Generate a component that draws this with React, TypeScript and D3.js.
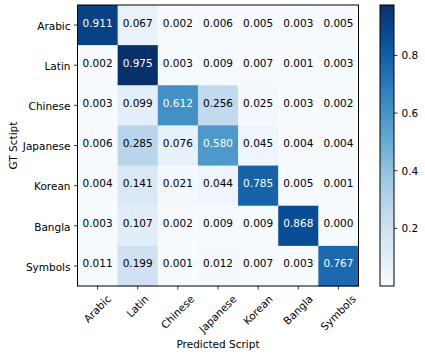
import * as d3 from "d3";
import { useEffect, useRef } from "react";

const scripts = ["Arabic", "Latin", "Chinese", "Japanese", "Korean", "Bangla", "Symbols"];

const arabicRow = [0.911, 0.067, 0.002, 0.006, 0.005, 0.003, 0.005];
const latinRow = [0.002, 0.975, 0.003, 0.009, 0.007, 0.001, 0.003];
const chineseRow = [0.003, 0.099, 0.612, 0.256, 0.025, 0.003, 0.002];
const japaneseRow = [0.006, 0.285, 0.076, 0.58, 0.045, 0.004, 0.004];
const koreanRow = [0.004, 0.141, 0.021, 0.044, 0.785, 0.005, 0.001];
const banglaRow = [0.003, 0.107, 0.002, 0.009, 0.009, 0.868, 0.0];
const symbolsRow = [0.011, 0.199, 0.001, 0.012, 0.007, 0.003, 0.767];

const matrix = [arabicRow, latinRow, chineseRow, japaneseRow, koreanRow, banglaRow, symbolsRow];

const colorbarTicks = [0.2, 0.4, 0.6, 0.8];

const blues = ["#f7fbff", "#deebf7", "#c6dbef", "#9ecae1", "#6baed6", "#4292c6", "#2171b5", "#08519c", "#08306b"];

export default function App() {
  const svgRef = useRef<SVGSVGElement | null>(null);

  useEffect(() => {
    if (!svgRef.current) return;
    const svg = d3.select(svgRef.current);
    svg.selectAll("*").remove();

    const font = "DejaVu Sans";
    const fs = 10.5;
    const left = 77.5;
    const top = 5;
    const size = 281;
    const right = left + size;
    const bottom = top + size;

    const all = matrix.flat();
    const vmin = d3.min(all)!;
    const vmax = d3.max(all)!;
    const thresh = vmax / 2;

    const interp = d3.piecewise(d3.interpolateRgb, blues);
    const color = (v: number) => interp((v - vmin) / (vmax - vmin));

    const x = d3.scaleBand<string>().domain(scripts).range([left, right]);
    const y = d3.scaleBand<string>().domain(scripts).range([top, bottom]);

    const g = svg.append("g").attr("font-family", font).attr("font-size", fs);

    // cells
    matrix.forEach((row, i) => {
      row.forEach((v, j) => {
        g.append("rect")
          .attr("x", x(scripts[j])!)
          .attr("y", y(scripts[i])!)
          .attr("width", x.bandwidth() + 0.5)
          .attr("height", y.bandwidth() + 0.5)
          .attr("fill", color(v));
        g.append("text")
          .attr("x", x(scripts[j])! + x.bandwidth() / 2)
          .attr("y", y(scripts[i])! + y.bandwidth() / 2 + 1.5)
          .attr("text-anchor", "middle")
          .attr("fill", v > thresh ? "#ffffff" : "#000000")
          .text(v.toFixed(3));
      });
    });

    g.append("rect")
      .attr("x", left)
      .attr("y", top)
      .attr("width", size)
      .attr("height", size)
      .attr("fill", "none")
      .attr("stroke", "#000")
      .attr("stroke-width", 1);

    // y ticks
    scripts.forEach((s) => {
      const cy = y(s)! + y.bandwidth() / 2;
      g.append("line")
        .attr("x1", left - 3.5)
        .attr("x2", left)
        .attr("y1", cy)
        .attr("y2", cy)
        .attr("stroke", "#000")
        .attr("stroke-width", 0.8);
      g.append("text")
        .attr("x", left - 7)
        .attr("y", cy + 4.8)
        .attr("text-anchor", "end")
        .attr("fill", "#000")
        .text(s);
    });

    // x ticks, rotated 45, centred on tick
    scripts.forEach((s) => {
      const cx = x(s)! + x.bandwidth() / 2;
      g.append("line")
        .attr("x1", cx)
        .attr("x2", cx)
        .attr("y1", bottom)
        .attr("y2", bottom + 3.5)
        .attr("stroke", "#000")
        .attr("stroke-width", 0.8);
      const t = g
        .append("text")
        .attr("text-anchor", "middle")
        .attr("dy", "0.32em")
        .attr("fill", "#000")
        .text(s);
      const w = (t.node() as SVGTextElement).getComputedTextLength();
      const h = fs * 1.17;
      const W = (w + h) * Math.SQRT1_2;
      t.attr("transform", `translate(${cx},${bottom + 7 + W / 2}) rotate(-45)`);
    });

    // axis labels
    g.append("text")
      .attr("x", (left + right) / 2)
      .attr("y", 348)
      .attr("text-anchor", "middle")
      .text("Predicted Script");

    g.append("text")
      .attr("transform", `translate(17,${(top + bottom) / 2}) rotate(-90)`)
      .attr("text-anchor", "middle")
      .text("GT Sctipt");

    // colorbar
    const cbX = 380;
    const cbW = 14;
    const defs = svg.append("defs");
    const grad = defs
      .append("linearGradient")
      .attr("id", "cb")
      .attr("x1", 0)
      .attr("x2", 0)
      .attr("y1", 1)
      .attr("y2", 0);
    blues.forEach((c, i) => {
      grad
        .append("stop")
        .attr("offset", i / (blues.length - 1))
        .attr("stop-color", c);
    });
    const cy = d3.scaleLinear().domain([vmin, vmax]).range([bottom, top]);
    g.append("rect")
      .attr("x", cbX)
      .attr("y", top)
      .attr("width", cbW)
      .attr("height", size)
      .attr("fill", "url(#cb)")
      .attr("stroke", "#000")
      .attr("stroke-width", 1);
    colorbarTicks.forEach((v) => {
      g.append("line")
        .attr("x1", cbX + cbW)
        .attr("x2", cbX + cbW + 3.5)
        .attr("y1", cy(v))
        .attr("y2", cy(v))
        .attr("stroke", "#000")
        .attr("stroke-width", 0.8);
      g.append("text")
        .attr("x", cbX + cbW + 7.5)
        .attr("y", cy(v) + 3.8)
        .attr("fill", "#000")
        .text(v.toFixed(1));
    });
  }, []);

  return (
    <svg
      ref={svgRef}
      width={425}
      height={360}
      style={{ position: "absolute", left: 0, top: 0, background: "#fff" }}
    />
  );
}
